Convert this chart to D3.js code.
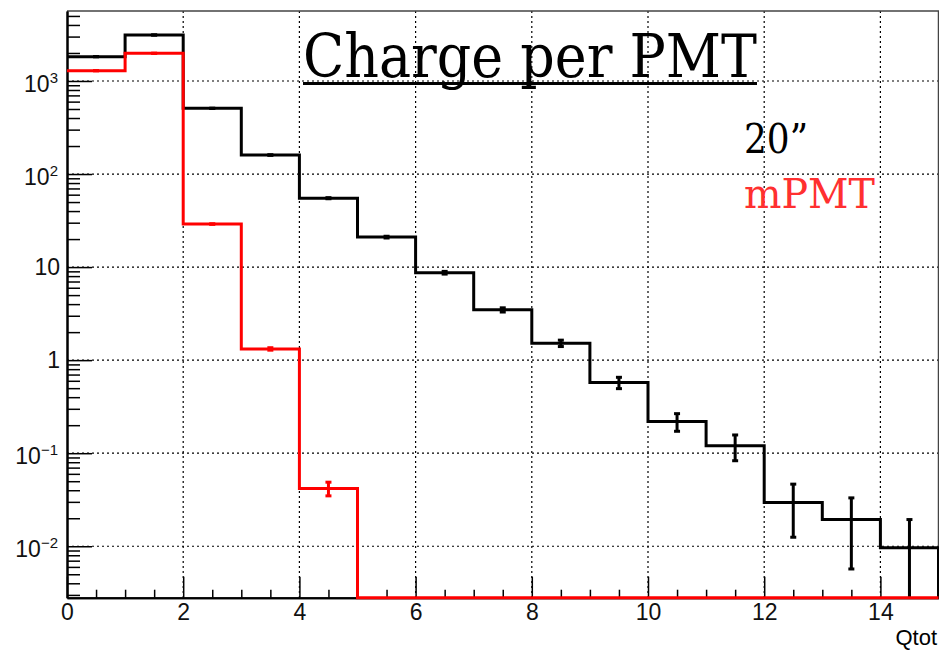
<!DOCTYPE html>
<html>
<head>
<meta charset="utf-8">
<script src="https://cdn.jsdelivr.net/npm/d3@7"></script>
<style>
  body { margin: 0; background: #fff; }
  svg { display: block; }
</style>
</head>
<body>
<div id="chart"></div>
<script>
// bin edges 0..15, width 1
var binEdges = [0, 1, 2, 3, 4, 5, 6, 7, 8, 9, 10, 11, 12, 13, 14, 15];
var pmt20 = [1825, 3120, 508, 160, 55, 21, 8.7, 3.47, 1.52, 0.574, 0.219, 0.120, 0.0295, 0.0194, 0.00966];
var pmt20Err = [4.2, 5.5, 2.2, 1.25, 0.73, 0.45, 0.29, 0.18, 0.12, 0.08, 0.047, 0.037, 0.017, 0.0137, 0.0097];
var mpmt = [1290, 1983, 29, 1.32, 0.0418, 0, 0, 0, 0, 0, 0, 0, 0, 0, 0];
var mpmtErr = [1.24, 1.54, 0.19, 0.04, 0.007, 0, 0, 0, 0, 0, 0, 0, 0, 0, 0];
var xMajor = [0, 2, 4, 6, 8, 10, 12, 14];
var xMinor = [0.5, 1, 1.5, 2.5, 3, 3.5, 4.5, 5, 5.5, 6.5, 7, 7.5, 8.5, 9, 9.5, 10.5, 11, 11.5, 12.5, 13, 13.5, 14.5, 15];
var yMajor = [0.01, 0.1, 1, 10, 100, 1000];
var yLabels = [["10", "\u22122"], ["10", "\u22121"], ["1", ""], ["10", ""], ["10", "2"], ["10", "3"]];
var yMinor = [0.003, 0.004, 0.005, 0.006, 0.007, 0.008, 0.009,
  0.02, 0.03, 0.04, 0.05, 0.06, 0.07, 0.08, 0.09,
  0.2, 0.3, 0.4, 0.5, 0.6, 0.7, 0.8, 0.9,
  2, 3, 4, 5, 6, 7, 8, 9,
  20, 30, 40, 50, 60, 70, 80, 90,
  200, 300, 400, 500, 600, 700, 800, 900,
  2000, 3000, 4000, 5000];
var xDomain = [0, 15];
var yDomain = [0.0028, 5650];

var W = 939, H = 650;
var fLeft = 67, fRight = 938.5, fTop = 11, fBottom = 597.7;

var svg = d3.select("#chart").append("svg")
  .attr("width", W)
  .attr("height", H);

var x = d3.scaleLinear().domain(xDomain).range([fLeft, fRight]);
var y = d3.scaleLog().domain(yDomain).range([fBottom, fTop]);

function yc(v) {
  // empty bins sit on the bottom of the frame like ROOT does
  if (v <= yDomain[0]) return fBottom;
  return y(v);
}

// grid
var grid = svg.append("g")
  .attr("stroke", "#000")
  .attr("stroke-width", 1.2)
  .attr("stroke-dasharray", "2,3");
grid.selectAll(".gx").data(xMajor.filter(d => d > 0)).enter().append("line")
  .attr("x1", d => x(d)).attr("x2", d => x(d))
  .attr("y1", fTop).attr("y2", fBottom);
grid.selectAll(".gy").data(yMajor).enter().append("line")
  .attr("x1", fLeft).attr("x2", fRight)
  .attr("y1", d => y(d)).attr("y2", d => y(d));

// frame top/right
svg.append("path")
  .attr("d", "M" + fLeft + "," + fTop + "H" + fRight + "V" + fBottom)
  .attr("fill", "none")
  .attr("stroke", "#444")
  .attr("stroke-width", 1.5);

// axes
var xMinorAxis = d3.axisBottom(x).tickValues(xMinor).tickSize(-8).tickSizeOuter(0).tickFormat("");
var xAxis = d3.axisBottom(x).tickValues(xMajor).tickSize(-21).tickSizeOuter(0).tickPadding(6);
var yMinorAxis = d3.axisLeft(y).tickValues(yMinor).tickSize(-13).tickSizeOuter(0).tickFormat("");
var yAxis = d3.axisLeft(y).tickValues(yMajor).tickSize(-25).tickSizeOuter(0).tickFormat("");

function styleAxis(g) {
  g.attr("font-family", "'Liberation Sans', Arial, Helvetica, sans-serif")
    .attr("font-size", 23);
  g.select(".domain").attr("stroke", "#000").attr("stroke-width", 2);
  g.selectAll(".tick line").attr("stroke", "#000").attr("stroke-width", 1.5);
  g.selectAll("text").attr("fill", "#111");
}

svg.append("g").attr("transform", "translate(0," + fBottom + ")").call(xMinorAxis).call(styleAxis);
svg.append("g").attr("transform", "translate(0," + fBottom + ")").call(xAxis).call(styleAxis);
svg.append("g").attr("transform", "translate(" + fLeft + ",0)").call(yMinorAxis).call(styleAxis);
var yg = svg.append("g").attr("transform", "translate(" + fLeft + ",0)").call(yAxis).call(styleAxis);

yg.selectAll(".tick").each(function (d, i) {
  var t = d3.select(this).select("text");
  var lab = yLabels[i];
  t.text(null)
    .attr("text-anchor", "end")
    .attr("x", lab[1] ? -9 : -7)
    .attr("dy", lab[1] ? "0.45em" : "0.32em");
  t.append("tspan").text(lab[0]);
  if (lab[1]) {
    t.append("tspan").attr("font-size", 15).attr("dy", -9).text(lab[1]);
  }
});

// x title
svg.append("text")
  .attr("x", 937)
  .attr("y", 645)
  .attr("text-anchor", "end")
  .attr("font-family", "'Liberation Sans', Arial, Helvetica, sans-serif")
  .attr("font-size", 22)
  .text("Qtot");

// histograms
function stepPath(vals) {
  var p = "M" + x(binEdges[0]) + "," + yc(vals[0]);
  vals.forEach(function (v, i) {
    p += "H" + x(binEdges[i + 1]);
    if (i + 1 < vals.length) p += "V" + yc(vals[i + 1]);
  });
  p += "V" + fBottom;
  return p;
}

function drawHist(vals, errs, color) {
  var g = svg.append("g");
  g.append("path")
    .attr("d", stepPath(vals))
    .attr("fill", "none")
    .attr("stroke", color)
    .attr("stroke-width", 3);
  var bins = vals.map(function (v, i) {
    return { c: (binEdges[i] + binEdges[i + 1]) / 2, v: v, e: errs[i] };
  }).filter(d => d.e > 0);
  var eb = g.selectAll(".err").data(bins).enter().append("g")
    .attr("stroke", color)
    .attr("stroke-width", 3);
  eb.append("line")
    .attr("x1", d => x(d.c)).attr("x2", d => x(d.c))
    .attr("y1", d => yc(d.v + d.e)).attr("y2", d => yc(d.v - d.e));
  eb.append("line")
    .attr("x1", d => x(d.c) - 3).attr("x2", d => x(d.c) + 3)
    .attr("y1", d => yc(d.v + d.e)).attr("y2", d => yc(d.v + d.e));
  eb.filter(d => d.v - d.e > yDomain[0]).append("line")
    .attr("x1", d => x(d.c) - 3).attr("x2", d => x(d.c) + 3)
    .attr("y1", d => yc(d.v - d.e)).attr("y2", d => yc(d.v - d.e));
}

drawHist(pmt20, pmt20Err, "#000");
drawHist(mpmt, mpmtErr, "#ff0000");

// title and legend
var serif = "'DejaVu Serif', 'Liberation Serif', serif";
svg.append("text")
  .attr("x", 303)
  .attr("y", 77)
  .attr("font-family", serif)
  .attr("font-size", 60)
  .attr("textLength", 454)
  .attr("lengthAdjust", "spacingAndGlyphs")
  .text("Charge per PMT");
svg.append("line")
  .attr("x1", 303).attr("x2", 757)
  .attr("y1", 83.5).attr("y2", 83.5)
  .attr("stroke", "#000")
  .attr("stroke-width", 3);

svg.append("text")
  .attr("x", 744)
  .attr("y", 153)
  .attr("font-family", serif)
  .attr("font-size", 41)
  .attr("textLength", 64)
  .attr("lengthAdjust", "spacingAndGlyphs")
  .text("20\u201d");
svg.append("text")
  .attr("x", 744)
  .attr("y", 208)
  .attr("font-family", serif)
  .attr("font-size", 41)
  .attr("fill", "#ff3030")
  .attr("textLength", 131)
  .attr("lengthAdjust", "spacingAndGlyphs")
  .text("mPMT");
</script>
</body>
</html>
